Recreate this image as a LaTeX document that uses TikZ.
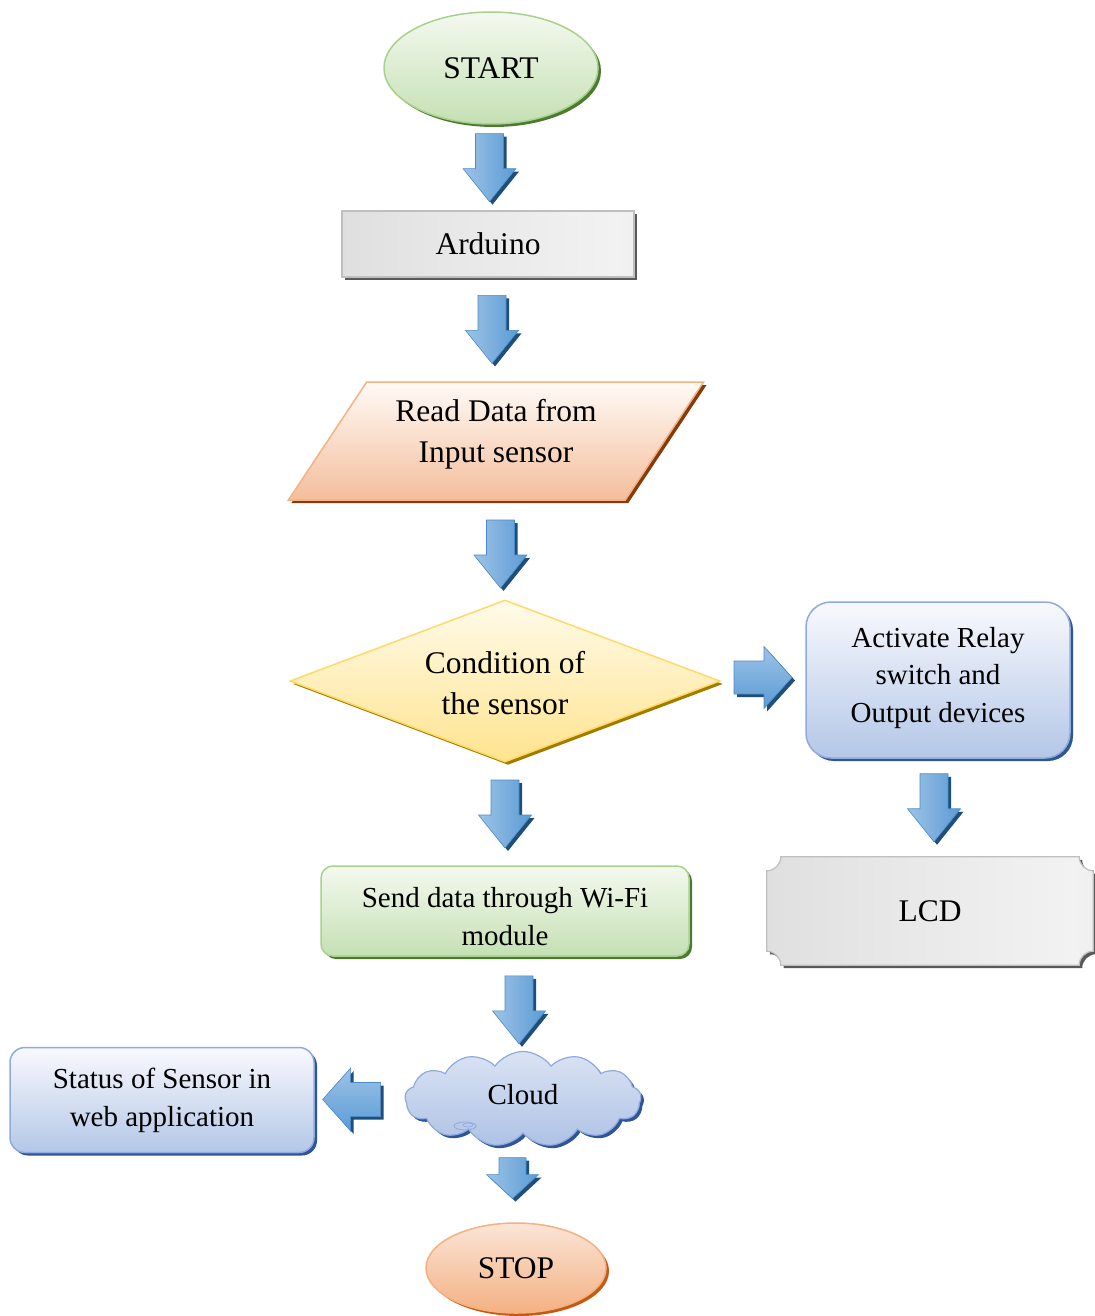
\documentclass[tikz,border=0pt]{standalone}
\usepackage{fontspec}
\setmainfont{Liberation Serif}
\usetikzlibrary{shapes.geometric,shapes.symbols,shadows,calc}
\definecolor{grnT}{HTML}{F4F9EF}
\definecolor{grnBot}{HTML}{C5E0B4}
\definecolor{grnB}{HTML}{A9D18E}
\definecolor{grnS}{HTML}{4E7A30}
\definecolor{orgT}{HTML}{FFFAF6}
\definecolor{orgBot}{HTML}{F4BE9C}
\definecolor{orgB}{HTML}{F4B183}
\definecolor{orgS}{HTML}{843C0C}
\definecolor{stopT}{HTML}{FBE5D6}
\definecolor{stopBot}{HTML}{F4B183}
\definecolor{stopS}{HTML}{C55A11}
\definecolor{yelT}{HTML}{FFFBEA}
\definecolor{yelBot}{HTML}{FFE38F}
\definecolor{yelB}{HTML}{FFD966}
\definecolor{yelS}{HTML}{A07C00}
\definecolor{bluT}{HTML}{F8F9FD}
\definecolor{bluBot}{HTML}{B4C7E7}
\definecolor{bluB}{HTML}{8FAADC}
\definecolor{bluS}{HTML}{2F5597}
\definecolor{cldT}{HTML}{DAE3F3}
\definecolor{cldBot}{HTML}{AFC2E5}
\definecolor{arrL}{HTML}{9DC3E6}
\definecolor{arrM}{HTML}{5B9BD5}
\definecolor{arrB}{HTML}{4A8AC8}
\definecolor{arrS}{HTML}{1F4E79}
\definecolor{grB}{HTML}{BFBFBF}
\definecolor{grS}{HTML}{595959}
\definecolor{g1}{HTML}{D4D4D4}
\definecolor{g2}{HTML}{E6E6E6}
\definecolor{g3}{HTML}{F2F2F2}
\definecolor{g4}{HTML}{D9D9D9}
\pgfdeclarehorizontalshading{grayshade}{100bp}{color(0bp)=(g1); color(40bp)=(g2); color(72bp)=(g3); color(100bp)=(g4)}
\tikzset{
  bigtext/.style={font=\fontsize{31.5}{41}\selectfont, align=center, text=black},
  smalltext/.style={font=\fontsize{29}{37.5}\selectfont, align=center, text=black},
  shad/.style={drop shadow={shadow xshift=3pt, shadow yshift=-3pt, fill=#1, opacity=1}},
  greenfill/.style={top color=grnT, bottom color=grnBot, draw=grnB, line width=1.5pt, shad=grnS},
  bluefill/.style={top color=bluT, bottom color=bluBot, draw=bluB, line width=1.5pt, shad=bluS},
  grayfill/.style={shade, shading=grayshade, draw=grB, line width=1.2pt, shad=grS},
  arrbodyv/.style={left color=arrL, right color=arrM, draw=arrB, line width=0.6pt, shad=arrS},
  arrbodyh/.style={top color=arrL, bottom color=arrM, draw=arrB, line width=0.6pt, shad=arrS},
  downarrow/.pic={\path[arrbodyv] (-14,-34) -- (14,-34) -- (14,1) -- (26.5,1) -- (0,34) -- (-26.5,1) -- (-14,1) -- cycle;},
  smalldown/.pic={\path[arrbodyv] (-13.5,-20.5) -- (13.5,-20.5) -- (13.5,-3.5) -- (26,-3.5) -- (0,20.5) -- (-26,-3.5) -- (-13.5,-3.5) -- cycle;},
  rightarrow/.pic={\path[arrbodyh] (-29,-16.5) -- (1,-16.5) -- (1,-31) -- (29,0) -- (1,31) -- (1,16.5) -- (-29,16.5) -- cycle;},
  leftarrow/.pic={\path[arrbodyh] (29,-17) -- (-1,-17) -- (-1,-31.5) -- (-29,0) -- (-1,31.5) -- (-1,17) -- (29,17) -- cycle;}
}
\begin{document}
\begin{tikzpicture}[x=1pt, y=-1pt]
\useasboundingbox (0,0) rectangle (1094,1316);
\fill[white] (0,0) rectangle (1094,1316);

% nodes
\node[ellipse, greenfill, minimum width=214, minimum height=112, bigtext] (start) at (491,68) {START};
\node[rectangle, grayfill, minimum width=292, minimum height=66, bigtext] (arduino) at (488,244) {Arduino};
\node[trapezium, trapezium left angle=55, trapezium right angle=125, trapezium stretches=true,
      minimum width=416, minimum height=118, top color=orgT, bottom color=orgBot, draw=orgB,
      line width=1.5pt, shad=orgS, bigtext, text depth=20pt] (read) at (496,441) {Read Data from\\Input sensor};
\node[diamond, aspect=2.65, minimum width=430, minimum height=162, top color=yelT, bottom color=yelBot,
      draw=yelB, line width=1.5pt, shad=yelS, bigtext, text height=67pt, text depth=0pt] (cond) at (505,681) {Condition of\\the sensor};
\node[rectangle, rounded corners=25, bluefill, minimum width=264, minimum height=156, smalltext, text height=84pt, text depth=0pt] (act) at (938,680) {Activate Relay\\switch and\\Output devices};
\node[rectangle, minimum width=326, minimum height=108, inner sep=0pt] (lcdb) at (930,911) {};
\path[grayfill] let \p1=(lcdb.north west), \p2=(lcdb.south east) in
  (\x1,\y1-14pt) .. controls (\x1+7.7pt,\y1-14pt) and (\x1+14pt,\y1-7.7pt) .. (\x1+14pt,\y1)
  -- (\x2-14pt,\y1) .. controls (\x2-14pt,\y1-7.7pt) and (\x2-7.7pt,\y1-14pt) .. (\x2,\y1-14pt)
  -- (\x2,\y2+14pt) .. controls (\x2-7.7pt,\y2+14pt) and (\x2-14pt,\y2+7.7pt) .. (\x2-14pt,\y2)
  -- (\x1+14pt,\y2) .. controls (\x1+14pt,\y2+7.7pt) and (\x1+7.7pt,\y2+14pt) .. (\x1,\y2+14pt) -- cycle;
\node[bigtext] (lcd) at (lcdb.center) {LCD};
\node[rectangle, rounded corners=12, greenfill, minimum width=368, minimum height=90, smalltext, text height=68pt, text depth=0pt] (send) at (505,911) {Send data through Wi-Fi\\module};
\node[cloud, cloud puffs=13, cloud puff arc=110, aspect=2.4, minimum width=236, minimum height=95,
      top color=cldT, bottom color=cldBot, draw=bluB, line width=1.2pt, shad=bluS, smalltext, text height=10pt, text depth=0pt] (cloud) at (523,1099) {Cloud};
\draw[bluB, line width=0.8pt] ($(cloud.center)+(-58,27)$) ellipse (11 and 4);
\draw[bluB, line width=0.6pt] ($(cloud.center)+(-55,26)$) ellipse (5 and 2);
\node[rectangle, rounded corners=15, bluefill, minimum width=304, minimum height=105, smalltext, text height=52pt, text depth=0pt] (status) at (162,1100) {Status of Sensor in\\web application};
\node[ellipse, top color=stopT, bottom color=stopBot, draw=orgB, line width=1.5pt, shad=stopS,
      minimum width=180, minimum height=90, bigtext] (stop) at (516,1268) {STOP};

% block arrows between nodes
\pic at ($(start.south)!0.5!(arduino.north)$) {downarrow};
\pic at ($(arduino.south)!0.5!(read.north)$) {downarrow};
\pic at ($(read.south)!0.5!(cond.north)+(0,4)$) {downarrow};
\pic at ($(cond.south)!0.5!(send.north)$) {downarrow};
\pic at ($(act.south)!0.5!(lcdb.north)$) {downarrow};
\pic at ($(cond.east)!0.5!(act.west)+(0,-3)$) {rightarrow};
\pic at ($(send.south)!0.5!(cloud.north)+(5,6)$) {downarrow};
\pic at ($(cloud.west)!0.5!(status.east)+(-8,0)$) {leftarrow};
\pic at ($(cloud.south)!0.5!(stop.north)+(-7,0)$) {smalldown};
\end{tikzpicture}
\end{document}
